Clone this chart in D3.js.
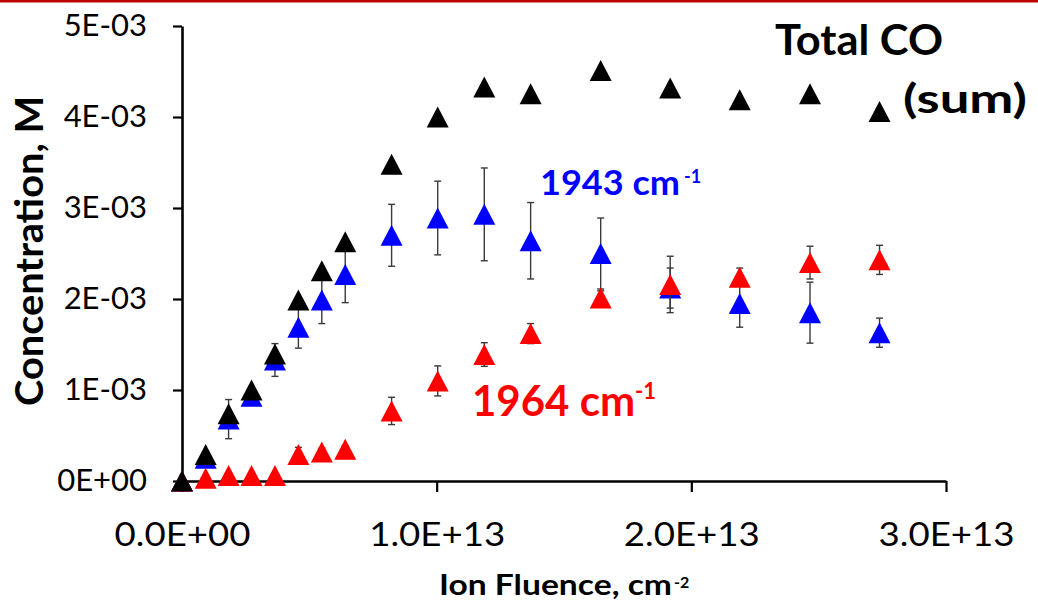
<!DOCTYPE html>
<html>
<head>
<meta charset="utf-8">
<script src="https://cdn.jsdelivr.net/npm/d3@7"></script>
<style>
  body { margin: 0; background: #fff; }
  svg { display: block; font-family: Lato, "Open Sans", sans-serif; }
</style>
</head>
<body>
<div id="chart"></div>
<script>
// Fluence (cm^-2) shared by all series
const fluence = [0, 0.093e13, 0.183e13, 0.273e13, 0.365e13, 0.457e13, 0.549e13, 0.641e13,
    0.823e13, 1.004e13, 1.187e13, 1.369e13, 1.644e13, 1.917e13, 2.19e13, 2.466e13, 2.739e13];

// Concentrations (M), in units of 1e-3
const band1943 = [0, 0.25, 0.68, 0.93, 1.33, 1.69, 1.99, 2.27, 2.70, 2.89, 2.93, 2.64, 2.50, 2.12, 1.95, 1.85, 1.63];
const band1943Err = [0, 0.05, 0.215, 0.06, 0.18, 0.23, 0.26, 0.31, 0.34, 0.405, 0.51, 0.42, 0.39, 0.22, 0.26, 0.335, 0.16];
const band1964 = [0, 0.03, 0.06, 0.06, 0.06, 0.29, 0.32, 0.35, 0.77, 1.10, 1.39, 1.62, 2.01, 2.16, 2.24, 2.40, 2.43];
const band1964Err = [0, 0, 0, 0, 0, 0.08, 0.04, 0.04, 0.15, 0.165, 0.13, 0.11, 0.08, 0.31, 0.10, 0.18, 0.16];
const totalCO = [0, 0.29, 0.74, 1.00, 1.395, 1.99, 2.31, 2.63, 3.48, 4.00, 4.33, 4.255, 4.51, 4.32, 4.19, 4.255, 4.06];

const xTicks = [0, 1e13, 2e13, 3e13];
const xTickLabels = ['0.0E+00', '1.0E+13', '2.0E+13', '3.0E+13'];
const yTicks = [0, 1e-3, 2e-3, 3e-3, 4e-3, 5e-3];
const yTickLabels = ['0E+00', '1E-03', '2E-03', '3E-03', '4E-03', '5E-03'];

const width = 1038;
const height = 603;

const svg = d3.select('#chart')
    .append('svg')
    .attr('width', width)
    .attr('height', height);

// red rule along the top edge
svg.append('rect')
    .attr('x', 0).attr('y', 0)
    .attr('width', width).attr('height', 2.5)
    .attr('fill', '#c00000');

// Scales
const xScale = d3.scaleLinear()
    .domain([0, 3e13])
    .range([182, 946]);

const yScale = d3.scaleLinear()
    .domain([0, 5e-3])
    .range([481, 26]);

// Axes
const xAxis = d3.axisBottom(xScale)
    .tickValues(xTicks)
    .tickFormat((d, i) => xTickLabels[i])
    .tickSize(11)
    .tickSizeOuter(0)
    .tickPadding(31);

const yAxis = d3.axisLeft(yScale)
    .tickValues(yTicks)
    .tickFormat((d, i) => yTickLabels[i])
    .tickSize(9)
    .tickSizeOuter(0)
    .tickPadding(26);

const gx = svg.append('g')
    .attr('class', 'x-axis')
    .attr('transform', `translate(0,${yScale(0)})`)
    .call(xAxis);

const gy = svg.append('g')
    .attr('class', 'y-axis')
    .attr('transform', `translate(${xScale(0)},0)`)
    .call(yAxis);

[gx, gy].forEach(g => {
    g.select('.domain').attr('stroke', '#000').attr('stroke-width', 2.6);
    g.selectAll('.tick line').attr('stroke', '#000').attr('stroke-width', 2.2);
    g.selectAll('.tick text')
        .attr('fill', '#000')
        .style('font-family', 'Lato, sans-serif');
});

gx.selectAll('.tick text')
    .style('font-size', '33px')
    .attr('textLength', 136)
    .attr('lengthAdjust', 'spacingAndGlyphs');

gy.selectAll('.tick text')
    .style('font-size', '31px');

// Text with a superscript tail, kept in one text element
function labelWithSup(x, y, main, sup, opts) {
    const t = svg.append('text')
        .attr('x', x).attr('y', y)
        .attr('font-weight', 'bold')
        .attr('fill', opts.color || '#000');
    const m = t.append('tspan')
        .attr('font-size', opts.size)
        .text(main);
    if (opts.length) {
        m.attr('textLength', opts.length).attr('lengthAdjust', 'spacingAndGlyphs');
    }
    const s = t.append('tspan')
        .attr('dy', -opts.rise)
        .attr('font-size', opts.supSize)
        .text(sup);
    if (opts.supX) s.attr('x', opts.supX);
    return t;
}

// Axis titles
svg.append('text')
    .attr('transform', 'translate(43,251) rotate(-90)')
    .attr('text-anchor', 'middle')
    .attr('font-weight', 'bold')
    .attr('font-size', 37.5)
    .attr('textLength', 310)
    .attr('lengthAdjust', 'spacingAndGlyphs')
    .text('Concentration, M');

labelWithSup(439, 595, 'Ion Fluence, cm', '-2',
    { size: 29, length: 233, supX: 674, rise: 7, supSize: 16 });

// Series
const series = [
    { name: '1943', values: band1943, errors: band1943Err, color: '#0000ff' },
    { name: '1964', values: band1964, errors: band1964Err, color: '#ff0000' },
    { name: 'total', values: totalCO, errors: null, color: '#000000' }
];

const triW = 22, triH = 21;
const triangle = `M0,${-triH / 2}L${triW / 2},${triH / 2}L${-triW / 2},${triH / 2}Z`;

series.forEach(s => {
    const pts = fluence.map((f, i) => ({
        x: f,
        y: s.values[i] * 1e-3,
        e: s.errors ? s.errors[i] * 1e-3 : 0
    }));

    const g = svg.append('g').attr('class', `series-${s.name}`);

    // error bars
    const eb = g.selectAll('.err')
        .data(pts.filter(d => d.e > 0))
        .enter()
        .append('g')
        .attr('class', 'err')
        .attr('stroke', '#3a3a3a')
        .attr('stroke-width', 1.4);

    eb.append('line')
        .attr('x1', d => xScale(d.x)).attr('x2', d => xScale(d.x))
        .attr('y1', d => yScale(d.y + d.e)).attr('y2', d => yScale(d.y - d.e));
    eb.append('line')
        .attr('x1', d => xScale(d.x) - 3.5).attr('x2', d => xScale(d.x) + 3.5)
        .attr('y1', d => yScale(d.y + d.e)).attr('y2', d => yScale(d.y + d.e));
    eb.append('line')
        .attr('x1', d => xScale(d.x) - 3.5).attr('x2', d => xScale(d.x) + 3.5)
        .attr('y1', d => yScale(d.y - d.e)).attr('y2', d => yScale(d.y - d.e));

    // markers
    g.selectAll('.marker')
        .data(pts)
        .enter()
        .append('path')
        .attr('class', 'marker')
        .attr('d', triangle)
        .attr('transform', d => `translate(${xScale(d.x)},${yScale(d.y)})`)
        .attr('fill', s.color);
});

// Annotations
svg.append('text')
    .attr('x', 775).attr('y', 55)
    .attr('font-weight', 'bold')
    .attr('font-size', 42)
    .attr('textLength', 168)
    .attr('lengthAdjust', 'spacingAndGlyphs')
    .text('Total CO');

svg.append('text')
    .attr('x', 903).attr('y', 113)
    .attr('font-weight', 'bold')
    .attr('font-size', 40)
    .attr('textLength', 124)
    .attr('lengthAdjust', 'spacingAndGlyphs')
    .text('(sum)');

labelWithSup(540, 195, '1943 cm', '-1',
    { color: '#0000ff', size: 35, length: 140, supX: 684, rise: 12, supSize: 18 });

labelWithSup(472, 416, '1964 cm', '-1',
    { color: '#ff0000', size: 42, rise: 17, supSize: 22 });
</script>
</body>
</html>
